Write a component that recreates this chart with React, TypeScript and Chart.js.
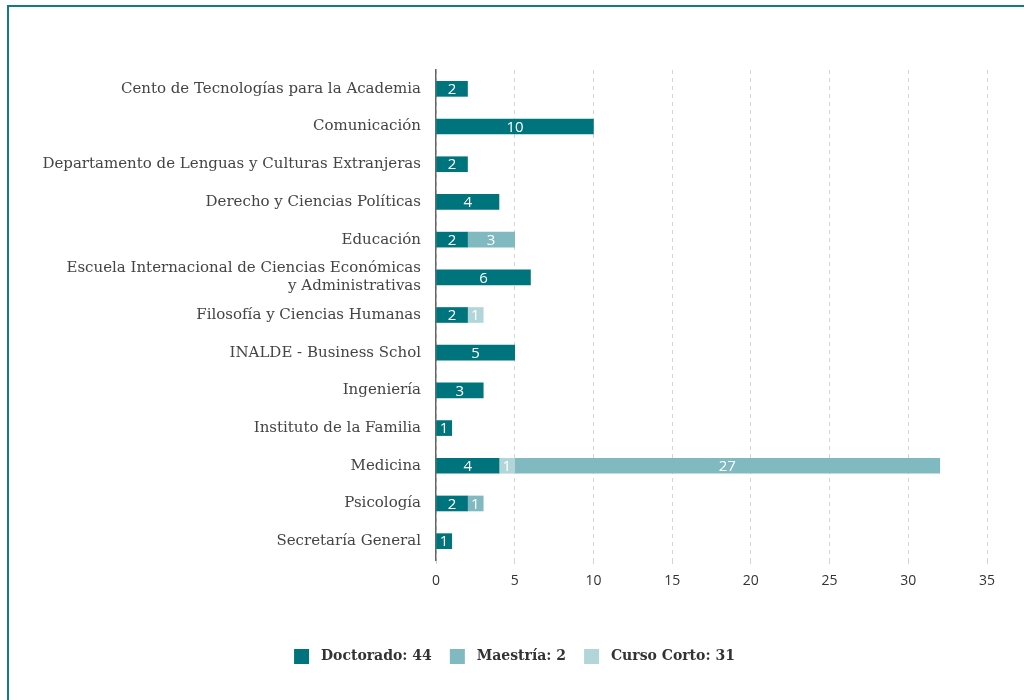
import React, { useEffect, useRef } from "react";
import { Chart, registerables } from "chart.js";

Chart.register(...registerables);

const categories: (string | string[])[] = [
  "Cento de Tecnologías para la Academia",
  "Comunicación",
  "Departamento de Lenguas y Culturas Extranjeras",
  "Derecho y Ciencias Políticas",
  "Educación",
  ["Escuela Internacional de Ciencias Económicas", "y Administrativas"],
  "Filosofía y Ciencias Humanas",
  "INALDE - Business Schol",
  "Ingeniería",
  "Instituto de la Familia",
  "Medicina",
  "Psicología",
  "Secretaría General",
];

const doctorado = [2, 10, 2, 4, 2, 6, 2, 5, 3, 1, 4, 2, 1];
const maestria = [null, null, null, null, null, null, 1, null, null, null, 1, null, null];
const cursoCorto = [null, null, null, null, 3, null, null, null, null, null, 27, 1, null];

const seriesNames = ["Doctorado", "Maestría", "Curso Corto"];
const barColors = ["#00747c", "#b2d5d9", "#80b9c0"];
const legendColors = ["#00747c", "#80b9c0", "#b2d5d9"];
const xTicks = [0, 5, 10, 15, 20, 25, 30, 35];

const sum = (a: (number | null)[]) => a.reduce((s: number, v) => s + (v || 0), 0);

const valueLabels = {
  id: "valueLabels",
  afterDatasetsDraw(chart: any) {
    const ctx = chart.ctx;
    ctx.save();
    ctx.fillStyle = "#ffffff";
    ctx.font = '15px "Open Sans"';
    ctx.textAlign = "center";
    ctx.textBaseline = "middle";
    chart.data.datasets.forEach((ds: any, i: number) => {
      const meta = chart.getDatasetMeta(i);
      meta.data.forEach((el: any, j: number) => {
        const v = ds.data[j];
        if (v == null || v === 0) return;
        ctx.fillText(String(v), (el.x + el.base) / 2, el.y + 1);
      });
    });
    ctx.restore();
  },
};

export default function App() {
  const ref = useRef<HTMLCanvasElement>(null);
  useEffect(() => {
    document.body.style.margin = "0";
    const all = [doctorado, maestria, cursoCorto];
    const chart = new Chart(ref.current!, {
      type: "bar",
      data: {
        labels: categories,
        datasets: all.map((d, i) => ({
          label: seriesNames[i],
          data: d,
          backgroundColor: barColors[i],
          borderWidth: 0,
          barThickness: 15,
        })),
      },
      options: {
        indexAxis: "y",
        responsive: false,
        animation: false,
        layout: { padding: { left: 42, right: 37, top: 70, bottom: 26 } },
        scales: {
          x: {
            stacked: true,
            min: 0,
            max: 35,
            afterBuildTicks: (s: any) => {
              s.ticks = xTicks.map((v) => ({ value: v }));
            },
            afterFit: (s: any) => {
              s.height = 71;
            },
            grid: {
              color: "#d4d4d4",
              lineWidth: 1,
              tickLength: 4,
              drawTicks: true,
            },
            border: { display: false, dash: [4, 4] },
            ticks: {
              color: "#333333",
              font: { family: "Open Sans", size: 14 },
              padding: 9,
            },
          },
          y: {
            stacked: true,
            afterFit: (s: any) => {
              s.width = 394;
            },
            grid: { display: false, drawTicks: false },
            border: { display: true, color: "#666666", width: 1.5 },
            ticks: {
              color: "#444444",
              font: { family: "DejaVu Serif", size: 15, lineHeight: 1.2 },
              padding: 15,
              autoSkip: false,
            },
          },
        },
        plugins: {
          tooltip: { enabled: false },
          legend: {
            position: "bottom",
            labels: {
              boxWidth: 15,
              boxHeight: 15,
              padding: 18,
              color: "#333333",
              font: { family: "DejaVu Serif", size: 14, weight: "bold" },
              generateLabels: () =>
                seriesNames.map((n, i) => ({
                  text: ` ${n}: ${sum(all[i] as any)}`,
                  fillStyle: legendColors[i],
                  strokeStyle: legendColors[i],
                  lineWidth: 0,
                  hidden: false,
                  datasetIndex: i,
                  fontColor: "#333333",
                })),
            },
          },
        },
      },
      plugins: [valueLabels],
    } as any);
    return () => chart.destroy();
  }, []);

  return (
    <div style={{ position: "relative", width: 1024, height: 700, overflow: "hidden", background: "#fff" }}>
      <div
        style={{
          position: "absolute",
          left: 7,
          top: 5,
          width: 1100,
          height: 800,
          borderTop: "2px solid #137a82",
          borderLeft: "2px solid #137a82",
        }}
      />
      <canvas ref={ref} width={1024} height={700} style={{ position: "absolute", left: 0, top: 0 }} />
    </div>
  );
}
